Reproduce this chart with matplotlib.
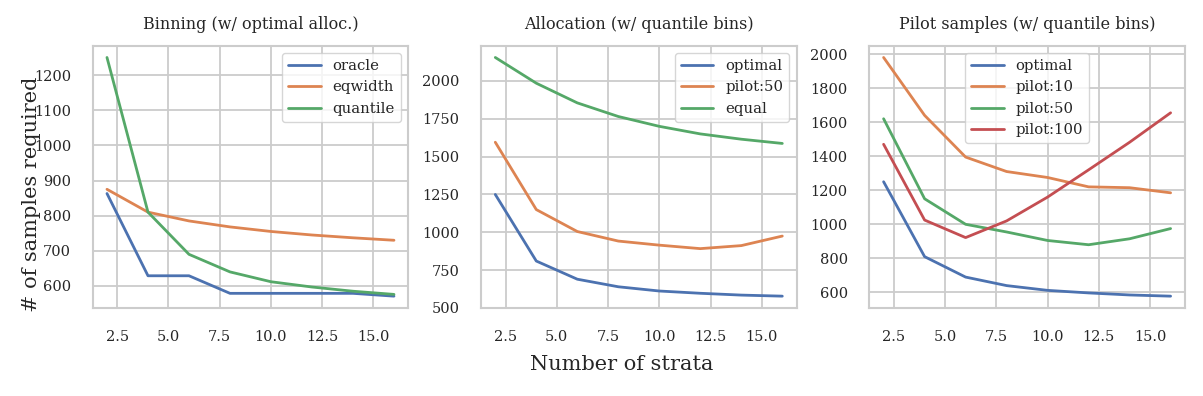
import numpy as np
import matplotlib
matplotlib.use("Agg")
import matplotlib.pyplot as plt
import seaborn as sns

strata = [2, 4, 6, 8, 10, 12, 14, 16]

# Binning (w/ optimal alloc.)
bin_oracle = [863, 629, 629, 579, 579, 579, 579, 571]
bin_eqwidth = [875, 810, 785, 768, 755, 745, 737, 730]
bin_quantile = [1250, 810, 690, 640, 612, 597, 585, 576]

# Allocation (w/ quantile bins)
alloc_optimal = [1250, 810, 690, 640, 612, 597, 585, 578]
alloc_pilot50 = [1595, 1150, 1005, 942, 915, 892, 912, 975]
alloc_equal = [2155, 1985, 1855, 1765, 1700, 1650, 1615, 1587]

# Pilot samples (w/ quantile bins)
pilot_optimal = [1250, 810, 690, 640, 612, 597, 585, 578]
pilot_10 = [1980, 1640, 1395, 1310, 1275, 1220, 1215, 1185]
pilot_50 = [1620, 1150, 1000, 955, 905, 880, 915, 975]
pilot_100 = [1470, 1025, 922, 1020, 1160, 1320, 1482, 1655]

sns.set_theme(style="whitegrid", context="notebook")
plt.rcParams["font.family"] = ["DejaVu Serif"]
plt.rcParams["axes.linewidth"] = 1.5
plt.rcParams["grid.linewidth"] = 1.3

fig, axes = plt.subplots(1, 3, figsize=(12.03, 3.96), dpi=100)
fig.subplots_adjust(left=0.077, right=0.985, top=0.885, bottom=0.222, wspace=0.23)

panels = [
    ("Binning (w/ optimal alloc.)",
     [("oracle", bin_oracle), ("eqwidth", bin_eqwidth), ("quantile", bin_quantile)],
     "upper right"),
    ("Allocation (w/ quantile bins)",
     [("optimal", alloc_optimal), ("pilot:50", alloc_pilot50), ("equal", alloc_equal)],
     "upper right"),
    ("Pilot samples (w/ quantile bins)",
     [("optimal", pilot_optimal), ("pilot:10", pilot_10), ("pilot:50", pilot_50),
      ("pilot:100", pilot_100)],
     "upper center"),
]

colors = sns.color_palette("deep")
for ax, (title, series, loc) in zip(axes, panels):
    for i, (name, vals) in enumerate(series):
        ax.plot(strata, vals, color=colors[i], lw=2, label=name)
    ax.set_title(title, fontsize=11.5, pad=12)
    ax.tick_params(labelsize=10.5, pad=9.5)
    ax.set_xticks([2.5, 5.0, 7.5, 10.0, 12.5, 15.0])
    leg = ax.legend(loc=loc, fontsize=10.7, handlelength=2.2)
    leg.get_frame().set_edgecolor("0.8")

axes[0].set_yticks([600, 700, 800, 900, 1000, 1100, 1200])
axes[1].set_yticks([500, 750, 1000, 1250, 1500, 1750, 2000])
axes[2].set_yticks([600, 800, 1000, 1200, 1400, 1600, 1800, 2000])

# labels shared by the three panels
fig.supxlabel("Number of strata", fontsize=15, x=0.517, y=0.055)
fig.supylabel("# of samples required", fontsize=15, x=0.018, y=0.51)

fig.savefig("out.png", dpi=100)
